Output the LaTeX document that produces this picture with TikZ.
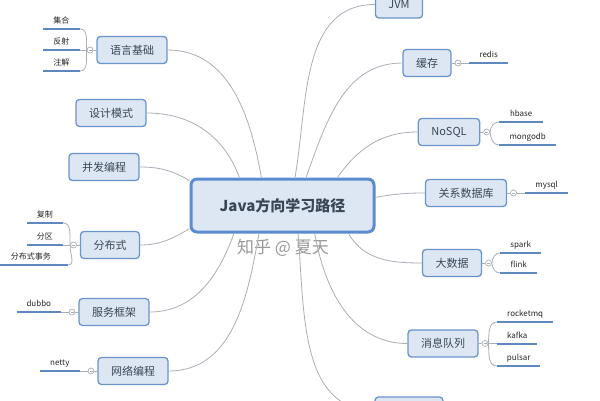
\documentclass[tikz,border=0pt]{standalone}
\usepackage{fontspec}
\setmainfont{Noto Sans CJK SC}
\usetikzlibrary{positioning}
\definecolor{cfill}{HTML}{DDE7F3}
\definecolor{cedge}{HTML}{6A95CC}
\definecolor{chub}{HTML}{5B8BD0}
\definecolor{cline}{HTML}{5D88C0}
\definecolor{clink}{HTML}{A9AFB7}
\definecolor{ctext}{HTML}{3B4656}
\tikzset{
  box/.style={draw=cedge, fill=cfill, rounded corners=3.5pt, line width=1.3pt, minimum height=27pt, inner xsep=13pt, inner ysep=0pt, font=\fontsize{11}{13}\selectfont, text=ctext},
  hub/.style={box, draw=chub, line width=3pt, rounded corners=6pt, minimum width=183pt, minimum height=53pt, font=\fontsize{15}{18}\selectfont\bfseries},
  leaf/.style={inner xsep=0pt, inner ysep=3.5pt, text height=6pt, text depth=1.5pt, font=\fontsize{8}{9}\selectfont, text=black!85,
    append after command={\pgfextra{\draw[line width=2pt, cline] (\tikzlastnode.south west) -- (\tikzlastnode.south east);}}},
  link/.style={draw=clink, line width=0.8pt},
  toggle/.style={circle, draw=clink, fill=white, line width=0.7pt, minimum size=6pt, inner sep=0pt,
    path picture={\draw[clink, line width=0.5pt] ([xshift=-1.5pt]path picture bounding box.center) -- ([xshift=1.5pt]path picture bounding box.center);}},
  watermark/.style={font=\fontsize{17}{20}\selectfont, text=black!50, opacity=0.8},
}
\begin{document}
\begin{tikzpicture}[x=1pt, y=1pt]
  \useasboundingbox (0,0) rectangle (600,-400);
  \clip (0,0) rectangle (600,-400);
  \fill[white] (0,0) rectangle (600,-400);
  % centre
  \node[hub] (java) at (282.5,-205.5) {Java方向学习路径};
  \node[watermark] (wm) at (283,-248) {知乎 @ 夏天};
  % left branches
  \node[box] (lang) at (132,-50) {语言基础};
  \node[box] (design) at (111,-113) {设计模式};
  \node[box] (concur) at (104,-167) {并发编程};
  \node[box] (dist) at (110,-245) {分布式};
  \node[box] (rpc) at (114,-312) {服务框架};
  \node[box] (net) at (133,-371) {网络编程};
  % right branches
  \node[box] (jvm) at (399,-4.5) {JVM};
  \node[box] (cache) at (427,-63) {缓存};
  \node[box] (nosql) at (449,-132) {NoSQL};
  \node[box] (rdb) at (466,-193) {关系数据库};
  \node[box] (bigdata) at (452,-263) {大数据};
  \node[box] (mq) at (443,-343.5) {消息队列};
  \node[box, minimum width=68pt] (more) at (409,-410.5) {};
  \draw[link] (java.127) to[out=100, in=0] (lang.east);
  \draw[link] (java.147) to[out=110, in=0] (design.east);
  \draw[link] (java.165) to[out=150, in=0] (concur.east);
  \draw[link] (java.194) to[out=210, in=0] (dist.east);
  \draw[link] (java.210) to[out=250, in=0] (rpc.east);
  \draw[link] (java.230) to[out=260, in=0] (net.east);
  \draw[link] (java.66) to[out=80, in=180] (jvm.west);
  \draw[link] (java.50) to[out=70, in=180] (cache.west);
  \draw[link] (java.27) to[out=55, in=180] (nosql.west);
  \draw[link] (java.5) to[out=10, in=180] (rdb.west);
  \draw[link] (java.-23) to[out=-60, in=180] (bigdata.west);
  \draw[link] (java.-41) to[out=-80, in=180] (mq.west);
  \draw[link] (java.-61) to[out=-85, in=180] (more.west);
  % toggles
  \node[toggle, left=3pt of lang] (lang-t) {};
  \node[toggle, left=3pt of dist] (dist-t) {};
  \node[toggle, left=3pt of rpc] (rpc-t) {};
  \node[toggle, left=3pt of net] (net-t) {};
  \node[toggle, right=3pt of cache] (cache-t) {};
  \node[toggle, right=3pt of nosql] (nosql-t) {};
  \node[toggle, right=3pt of rdb] (rdb-t) {};
  \node[toggle, right=3pt of bigdata] (bigdata-t) {};
  \node[toggle, right=3pt of mq] (mq-t) {};
  \foreach \n in {lang, dist, rpc, net, cache, nosql, rdb, bigdata, mq}
    \draw[link] (\n-t) -- (\n);
  % leaves, left
  \node[leaf, anchor=south east, minimum width=37pt] (set) at (80,-29) {集合};
  \node[leaf, anchor=south east, minimum width=37pt] (refl) at (80,-50) {反射};
  \node[leaf, anchor=south east, minimum width=37pt] (anno) at (80,-71) {注解};
  \draw[link] (lang-t.west) to[out=95, in=0] (set.south east);
  \draw[link] (lang-t.west) -- (refl.south east);
  \draw[link] (lang-t.west) to[out=-95, in=0] (anno.south east);
  \node[leaf, anchor=south east, minimum width=36pt] (copy) at (63,-223) {复制};
  \node[leaf, anchor=south east, minimum width=36pt] (part) at (63,-245) {分区};
  \node[leaf, anchor=south east, minimum width=74pt] (tx) at (68,-265) {分布式事务};
  \draw[link] (dist-t.west) to[out=95, in=0] (copy.south east);
  \draw[link] (dist-t.west) -- (part.south east);
  \draw[link] (dist-t.west) to[out=-95, in=0] (tx.south east);
  \node[leaf, anchor=south east, minimum width=44pt] (dubbo) at (61,-312) {dubbo};
  \draw[link] (rpc-t) -- (dubbo.south east);
  \node[leaf, anchor=south east, minimum width=40pt] (netty) at (80,-371) {netty};
  \draw[link] (net-t) -- (netty.south east);
  % leaves, right
  \node[leaf, anchor=south west, minimum width=39pt] (redis) at (469,-63) {redis};
  \draw[link] (cache-t) -- (redis.south west);
  \node[leaf, anchor=south west, minimum width=44pt] (hbase) at (499,-122) {hbase};
  \node[leaf, anchor=south west, minimum width=57pt] (mongo) at (499,-145) {mongodb};
  \draw[link] (nosql-t.east) to[out=85, in=180] (hbase.south west);
  \draw[link] (nosql-t.east) to[out=-85, in=180] (mongo.south west);
  \node[leaf, anchor=south west, minimum width=43pt] (mysql) at (525,-193) {mysql};
  \draw[link] (rdb-t) -- (mysql.south west);
  \node[leaf, anchor=south west, minimum width=41pt] (spark) at (500,-253) {spark};
  \node[leaf, anchor=south west, minimum width=37pt] (flink) at (500,-273) {flink};
  \draw[link] (bigdata-t.east) to[out=85, in=180] (spark.south west);
  \draw[link] (bigdata-t.east) to[out=-85, in=180] (flink.south west);
  \node[leaf, anchor=south west, minimum width=56pt] (rocket) at (497,-322) {rocketmq};
  \node[leaf, anchor=south west, minimum width=40pt] (kafka) at (497,-343.5) {kafka};
  \node[leaf, anchor=south west, minimum width=43pt] (pulsar) at (497,-366) {pulsar};
  \draw[link] (mq-t.east) to[out=85, in=180] (rocket.south west);
  \draw[link] (mq-t.east) -- (kafka.south west);
  \draw[link] (mq-t.east) to[out=-85, in=180] (pulsar.south west);
\end{tikzpicture}
\end{document}
